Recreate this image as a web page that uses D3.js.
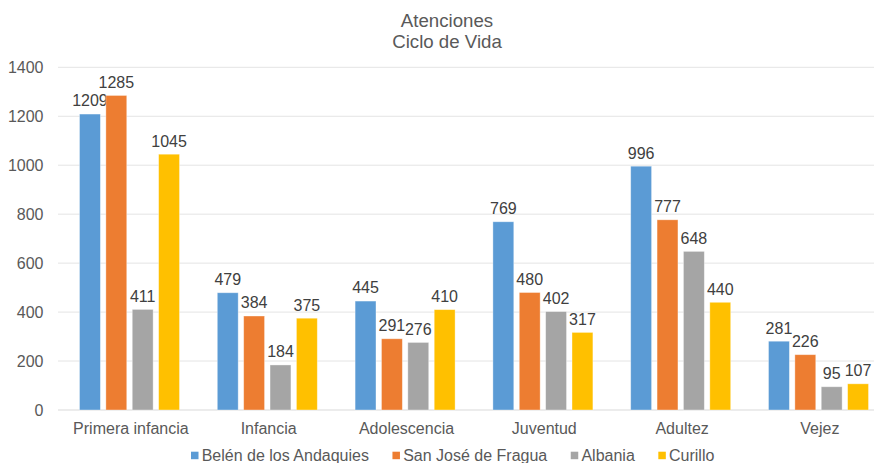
<!DOCTYPE html>
<html>
<head>
<meta charset="utf-8">
<script src="https://cdn.jsdelivr.net/npm/d3@7/dist/d3.min.js"></script>
<style>
  html, body { margin: 0; padding: 0; background: #fff; }
  svg { display: block; font-family: "Liberation Sans", Arial, sans-serif; }
</style>
</head>
<body>
<svg id="chart" width="874" height="463"></svg>
<script>
// Atenciones por ciclo de vida y municipio
const categories = ["Primera infancia", "Infancia", "Adolescencia", "Juventud", "Adultez", "Vejez"];
const seriesNames = ["Belén de los Andaquies", "San José de Fragua", "Albania", "Curillo"];
const belen    = [1209, 479, 445, 769, 996, 281];
const sanJose  = [1285, 384, 291, 480, 777, 226];
const albania  = [411, 184, 276, 402, 648, 95];
const curillo  = [1045, 375, 410, 317, 440, 107];
const yTicks   = [0, 200, 400, 600, 800, 1000, 1200, 1400];
const titleLines = ["Atenciones", "Ciclo de Vida"];

const seriesValues = [belen, sanJose, albania, curillo];
const colors = ["#5B9BD5", "#ED7D31", "#A5A5A5", "#FFC000"];

const svg = d3.select("#chart");
const plot = { left: 58, top: 67.3, bottom: 410, step: 137.8 };

const x = d3.scaleBand()
  .domain(categories)
  .range([plot.left, plot.left + plot.step * categories.length])
  .paddingInner(0).paddingOuter(0);

const y = d3.scaleLinear().domain([0, 1400]).range([plot.bottom, plot.top]);

const barW = 19.8, barStep = 25;
const xs = d3.scaleBand().domain(d3.range(seriesNames.length))
  .range([0, barStep * seriesNames.length]).paddingInner((barStep - barW) / barStep).paddingOuter(0);
const groupW = barStep * (seriesNames.length - 1) + barW;

// gridlines
svg.append("g").selectAll("line").data(yTicks).join("line")
  .attr("x1", plot.left).attr("x2", 874)
  .attr("y1", d => y(d)).attr("y2", d => y(d))
  .attr("stroke", d => d === 0 ? "#d9d9d9" : "#e4e4e4")
  .attr("stroke-width", 1);

// y axis labels
svg.append("g").selectAll("text").data(yTicks).join("text")
  .attr("x", 43.5).attr("y", d => y(d) + 5.6)
  .attr("text-anchor", "end")
  .attr("font-size", 16).attr("fill", "#595959")
  .text(d => d);

// bars
const groups = svg.append("g").selectAll("g").data(categories).join("g")
  .attr("transform", c => `translate(${x(c) + x.bandwidth() / 2 - groupW / 2},0)`);

groups.each(function (c, ci) {
  const g = d3.select(this);
  seriesValues.forEach((vals, si) => {
    const v = vals[ci];
    g.append("rect")
      .attr("x", xs(si)).attr("width", xs.bandwidth())
      .attr("y", y(v)).attr("height", y(0) - y(v))
      .attr("fill", colors[si])
      .attr("stroke", "#ffffff").attr("stroke-opacity", 0.45).attr("stroke-width", 0.8);
    g.append("text")
      .attr("x", xs(si) + xs.bandwidth() / 2)
      .attr("y", y(v) - 7.6)
      .attr("text-anchor", "middle")
      .attr("font-size", 16).attr("fill", "#404040")
      .text(v);
  });
});

// category labels
svg.append("g").selectAll("text").data(categories).join("text")
  .attr("x", c => x(c) + x.bandwidth() / 2 + 4)
  .attr("y", 434)
  .attr("text-anchor", "middle")
  .attr("font-size", 16).attr("fill", "#595959")
  .text(c => c);

// title
svg.append("g").selectAll("text").data(titleLines).join("text")
  .attr("x", 447).attr("y", (d, i) => 26.5 + i * 21.5)
  .attr("text-anchor", "middle")
  .attr("font-size", 18.67).attr("fill", "#595959")
  .text(d => d);

// legend
const legend = svg.append("g").attr("transform", "translate(191,0)");
let lx = 0;
seriesNames.forEach((name, i) => {
  const item = legend.append("g").attr("transform", `translate(${lx},0)`);
  item.append("rect").attr("x", 0).attr("y", 451.7).attr("width", 7.5).attr("height", 7.5)
    .attr("fill", colors[i]);
  const t = item.append("text").attr("x", 10.7).attr("y", 460.5)
    .attr("font-size", 16).attr("fill", "#595959").text(name);
  lx += 10.7 + t.node().getComputedTextLength() + 23.5;
});
</script>
</body>
</html>
